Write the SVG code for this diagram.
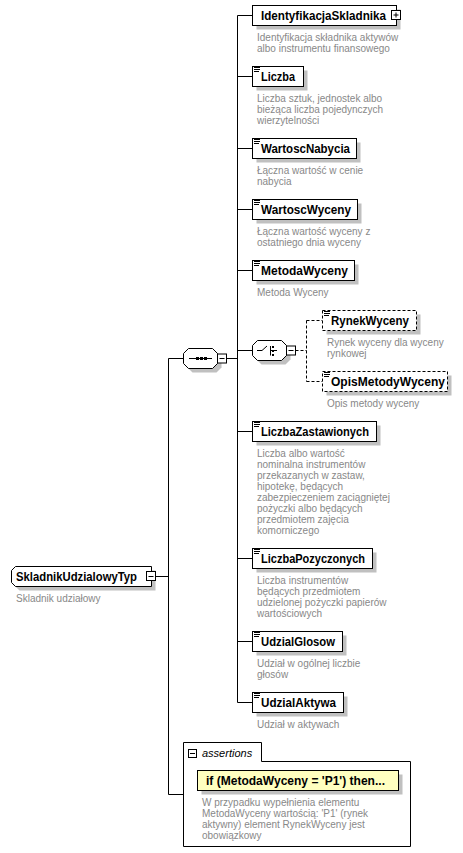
<svg xmlns="http://www.w3.org/2000/svg" xmlns:xlink="http://www.w3.org/1999/xlink" width="463" height="853" viewBox="0 0 463 853">
<style>
.box{fill:#fff;stroke:#000;stroke-width:1}
.opt{fill:#fff;stroke:#000;stroke-width:1;stroke-dasharray:3,2}
.sh{fill:#c0c0c0}
.ln{stroke:#000;stroke-width:1;fill:none}
.dl{stroke:#000;stroke-width:1;fill:none;stroke-dasharray:3,2}
.pm{fill:#fff;stroke:#000;stroke-width:1}
.nm{font-family:"Liberation Sans",Arial,sans-serif;font-weight:bold;font-size:12px;fill:#000}
.ds{font-family:"Liberation Sans",Arial,sans-serif;font-size:10px;fill:#888}
.it{font-family:"Liberation Sans",Arial,sans-serif;font-style:italic;font-size:11px;fill:#000}
.ay{fill:#ffffc0;stroke:#000;stroke-width:1}
</style>
<defs>
<g id="doc"><path d="M0,0.5H6M0,2.5H6M0,4.5H5" stroke="#000" stroke-width="1" fill="none"/></g>
</defs>

<g id="connectors">
<path class="ln" d="M237.5,15.5V702.5"/>
<path class="ln" d="M237.5,15.5H252.5M237.5,76.5H252.5M237.5,148.5H252.5M237.5,209.5H252.5M237.5,270.5H252.5M237.5,431.5H252.5M237.5,558.5H252.5M237.5,641.5H252.5M237.5,702.5H252.5"/>
<path class="ln" d="M237.5,350.5H252.5"/>
<path class="ln" d="M226.5,358.5H237.5"/>
<path class="ln" d="M155.5,576.5H168.5M168.5,358.5V794.5M168.5,358.5H183.5M168.5,794.5H183.5"/>
<path class="dl" d="M295.5,350.5H306.5M306.5,320.5V381.5M306.5,320.5H322.5M306.5,381.5H322.5"/>
</g>

<g id="root">
<path class="sh" d="M19.5,570.5H155.5V590.5H19.5L15.5,586.5V574.5Z"/>
<path class="box" d="M15.5,566.5H151.5V586.5H15.5L11.5,582.5V570.5Z"/>
<text class="nm" x="16" y="581" textLength="121" lengthAdjust="spacingAndGlyphs">SkladnikUdzialowyTyp</text>
<rect class="pm" x="146.5" y="571.5" width="9" height="9"/>
<path class="ln" d="M148.5,576.5H153.5"/>
<text class="ds" x="16" y="602">Skladnik udziałowy</text>
</g>

<g id="sequence">
<path class="sh" d="M192.5,352.5H216.5L221.5,357.5V367.5L216.5,372.5H192.5L187.5,367.5V357.5Z"/>
<path class="box" d="M188.5,348.5H212.5L217.5,353.5V363.5L212.5,368.5H188.5L183.5,363.5V353.5Z"/>
<path class="ln" d="M189,358.5H212"/>
<rect x="196" y="357" width="3" height="3" fill="#000"/>
<rect x="200" y="357" width="3" height="3" fill="#000"/>
<rect x="204" y="357" width="3" height="3" fill="#000"/>
<rect class="pm" x="217.5" y="354" width="9" height="9"/>
<path class="ln" d="M219.5,358.5H224.5"/>
</g>

<g id="choice">
<path class="sh" d="M261.5,344.5H285.5L290.5,349.5V359.5L285.5,364.5H261.5L256.5,359.5V349.5Z"/>
<path class="box" d="M257.5,340.5H281.5L286.5,345.5V355.5L281.5,360.5H257.5L252.5,355.5V345.5Z"/>
<path class="ln" d="M257,350.5H262L267,346M270.5,346V355.5M270.5,350.5H277"/>
<rect x="272" y="346" width="2" height="2" fill="#000"/>
<rect x="272" y="350" width="2" height="2" fill="#000"/>
<rect x="272" y="354" width="2" height="2" fill="#000"/>
<rect class="pm" x="286.5" y="346" width="9" height="9"/>
<path class="ln" d="M288.5,350.5H293.5"/>
</g>

<g id="IdentyfikacjaSkladnika">
<rect class="sh" x="256.5" y="9.5" width="144" height="20"/>
<rect class="box" x="252.5" y="5.5" width="144" height="20"/>
<text class="nm" x="261" y="20" textLength="125" lengthAdjust="spacingAndGlyphs">IdentyfikacjaSkladnika</text>
<rect class="pm" x="391.5" y="10.5" width="9" height="9"/>
<path class="ln" d="M393.5,15H398.5M396,12.5V17.5"/>
<text class="ds" x="257" y="41">Identyfikacja składnika aktywów</text>
<text class="ds" x="257" y="52">albo instrumentu finansowego</text>
</g>

<g id="Liczba">
<rect class="sh" x="256.5" y="70.5" width="51" height="20"/>
<rect class="box" x="252.5" y="66.5" width="51" height="20"/>
<use xlink:href="#doc" x="254" y="67"/>
<text class="nm" x="261" y="81" textLength="34" lengthAdjust="spacingAndGlyphs">Liczba</text>
<text class="ds" x="257" y="102">Liczba sztuk, jednostek albo</text>
<text class="ds" x="257" y="113">bieżąca liczba pojedynczych</text>
<text class="ds" x="257" y="124">wierzytelności</text>
</g>

<g id="WartoscNabycia">
<rect class="sh" x="256.5" y="142.5" width="104" height="20"/>
<rect class="box" x="252.5" y="138.5" width="104" height="20"/>
<use xlink:href="#doc" x="254" y="139"/>
<text class="nm" x="261" y="153" textLength="89" lengthAdjust="spacingAndGlyphs">WartoscNabycia</text>
<text class="ds" x="257" y="174">Łączna wartość w cenie</text>
<text class="ds" x="257" y="185">nabycia</text>
</g>

<g id="WartoscWyceny">
<rect class="sh" x="256.5" y="203.5" width="105" height="20"/>
<rect class="box" x="252.5" y="199.5" width="105" height="20"/>
<use xlink:href="#doc" x="254" y="200"/>
<text class="nm" x="261" y="214" textLength="90" lengthAdjust="spacingAndGlyphs">WartoscWyceny</text>
<text class="ds" x="257" y="235">Łączna wartość wyceny z</text>
<text class="ds" x="257" y="246">ostatniego dnia wyceny</text>
</g>

<g id="MetodaWyceny">
<rect class="sh" x="256.5" y="264.5" width="102" height="20"/>
<rect class="box" x="252.5" y="260.5" width="102" height="20"/>
<use xlink:href="#doc" x="254" y="261"/>
<text class="nm" x="261" y="275" textLength="87" lengthAdjust="spacingAndGlyphs">MetodaWyceny</text>
<text class="ds" x="257" y="296">Metoda Wyceny</text>
</g>

<g id="RynekWyceny">
<rect class="sh" x="326.5" y="314.5" width="94" height="20"/>
<rect class="opt" x="322.5" y="310.5" width="94" height="20"/>
<use xlink:href="#doc" x="324" y="311"/>
<text class="nm" x="331" y="325" textLength="78" lengthAdjust="spacingAndGlyphs">RynekWyceny</text>
<text class="ds" x="327" y="346">Rynek wyceny dla wyceny</text>
<text class="ds" x="327" y="357">rynkowej</text>
</g>

<g id="OpisMetodyWyceny">
<rect class="sh" x="326.5" y="375.5" width="125" height="20"/>
<rect class="opt" x="322.5" y="371.5" width="125" height="20"/>
<use xlink:href="#doc" x="324" y="372"/>
<text class="nm" x="331" y="386" textLength="114" lengthAdjust="spacingAndGlyphs">OpisMetodyWyceny</text>
<text class="ds" x="327" y="407">Opis metody wyceny</text>
</g>

<g id="LiczbaZastawionych">
<rect class="sh" x="256.5" y="425.5" width="124" height="20"/>
<rect class="box" x="252.5" y="421.5" width="124" height="20"/>
<use xlink:href="#doc" x="254" y="422"/>
<text class="nm" x="261" y="436" textLength="108" lengthAdjust="spacingAndGlyphs">LiczbaZastawionych</text>
<text class="ds" x="257" y="457">Liczba albo wartość</text>
<text class="ds" x="257" y="468">nominalna instrumentów</text>
<text class="ds" x="257" y="479">przekazanych w zastaw,</text>
<text class="ds" x="257" y="490">hipotekę, będących</text>
<text class="ds" x="257" y="501">zabezpieczeniem zaciągniętej</text>
<text class="ds" x="257" y="512">pożyczki albo będących</text>
<text class="ds" x="257" y="523">przedmiotem zajęcia</text>
<text class="ds" x="257" y="534">komorniczego</text>
</g>

<g id="LiczbaPozyczonych">
<rect class="sh" x="256.5" y="552.5" width="120" height="20"/>
<rect class="box" x="252.5" y="548.5" width="120" height="20"/>
<use xlink:href="#doc" x="254" y="549"/>
<text class="nm" x="261" y="563" textLength="104" lengthAdjust="spacingAndGlyphs">LiczbaPozyczonych</text>
<text class="ds" x="257" y="584">Liczba instrumentów</text>
<text class="ds" x="257" y="595">będących przedmiotem</text>
<text class="ds" x="257" y="606">udzielonej pożyczki papierów</text>
<text class="ds" x="257" y="617">wartościowych</text>
</g>

<g id="UdzialGlosow">
<rect class="sh" x="256.5" y="635.5" width="90" height="20"/>
<rect class="box" x="252.5" y="631.5" width="90" height="20"/>
<use xlink:href="#doc" x="254" y="632"/>
<text class="nm" x="261" y="646" textLength="74" lengthAdjust="spacingAndGlyphs">UdzialGlosow</text>
<text class="ds" x="257" y="667">Udział w ogólnej liczbie</text>
<text class="ds" x="257" y="678">głosów</text>
</g>

<g id="UdzialAktywa">
<rect class="sh" x="256.5" y="696.5" width="91" height="20"/>
<rect class="box" x="252.5" y="692.5" width="91" height="20"/>
<use xlink:href="#doc" x="254" y="693"/>
<text class="nm" x="261" y="707" textLength="75" lengthAdjust="spacingAndGlyphs">UdzialAktywa</text>
<text class="ds" x="257" y="728">Udział w aktywach</text>
</g>

<g id="assertions">
<path class="box" d="M183.5,846.5V742.5H261.5V761.5H410.5V846.5Z"/>
<rect class="pm" x="188.5" y="749.5" width="8" height="8"/>
<path class="ln" d="M190,753.5H195"/>
<text class="it" x="202" y="757">assertions</text>
<rect class="sh" x="201.5" y="774.5" width="201" height="20"/>
<rect class="ay" x="197.5" y="770.5" width="201" height="20"/>
<text class="nm" x="206" y="785" textLength="179" lengthAdjust="spacingAndGlyphs">if (MetodaWyceny = 'P1') then...</text>
<text class="ds" x="202" y="806">W przypadku wypełnienia elementu</text>
<text class="ds" x="202" y="817">MetodaWyceny wartością: 'P1' (rynek</text>
<text class="ds" x="202" y="828">aktywny) element RynekWyceny jest</text>
<text class="ds" x="202" y="839">obowiązkowy</text>
</g>
</svg>
